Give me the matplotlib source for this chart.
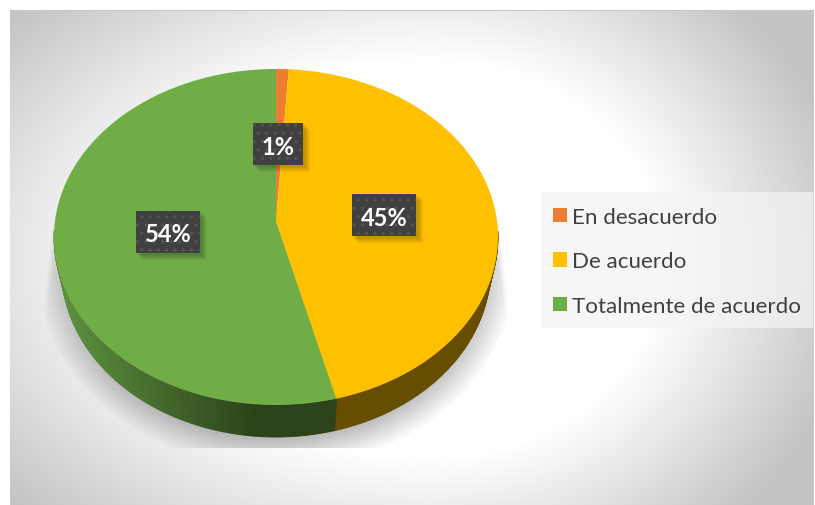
import numpy as np
import matplotlib
matplotlib.use('Agg')
import matplotlib.pyplot as plt
from matplotlib.patches import Rectangle
from matplotlib.transforms import Transform

plt.rcParams['font.family'] = ['Lato', 'DejaVu Sans']

# Datos
categorias = ['En desacuerdo', 'De acuerdo', 'Totalmente de acuerdo']
valores = [1, 45, 54]
colores = ['#ED7D31', '#FFC000', '#70AD47']
etiquetas_pos = [(278, 145), (384, 216), (168, 233)]

W, H = 815, 506
CX, CY = 276, 238
RX, RY = 222, 168
PROF = 32
C = 0.09  # el centro sube un poco por la perspectiva


def proyectar(x, y):
    d = 1 + C * y
    return x * np.sqrt(1 - C ** 2) / d, (y + C) / d


class Perspectiva(Transform):
    input_dims = output_dims = 2

    def transform_non_affine(self, values):
        v = np.asarray(values)
        x, y = proyectar(v[:, 0], v[:, 1])
        return np.column_stack([x, y])


fig = plt.figure(figsize=(W / 100, H / 100), dpi=100, facecolor='white')

# === Fondo ===
bg = fig.add_axes([0, 0, 1, 1], zorder=0)
bg.set_xlim(0, W)
bg.set_ylim(H, 0)
bg.axis('off')

xx, yy = np.meshgrid(np.arange(W) + 0.5, np.arange(H) + 0.5)
escala_x = np.where(xx > 430, 400, 520)
r = np.hypot((xx - 430) / escala_x, (yy - 260) / 340)
gris = 255 - np.clip(121 * (r - 0.587), 0, 58)

# sombra del pastel
d_sombra = np.hypot((xx - CX) / 240, (yy - 270) / 200)
a_sombra = np.clip((1.0 - d_sombra) / 0.16, 0, 1)
borde = 222 + (yy - 215) * 14 / 110
a_sombra = a_sombra * np.clip((borde - np.abs(xx - CX)) / 6, 0, 1)
a_sombra[(yy < 215) | (yy > 449)] = 0
gris = gris * (1 - 0.28 * a_sombra)

rgb = np.repeat(gris[:, :, None], 3, axis=2) / 255
rgb[(yy < 12) | (xx < 10) | (xx > 814)] = 1
rgb[(yy >= 11) & (yy < 12.5) & (xx >= 10) & (xx <= 814)] = 0.78
bg.imshow(rgb, extent=(0, W, H, 0), aspect='auto', interpolation='bilinear')

# === Pastel ===
ax = fig.add_axes([(CX - RX) / W, 1 - (CY + RY) / H, 2 * RX / W, 2 * RY / H], zorder=1)
wedges, _ = ax.pie(valores, colors=colores, startangle=90, counterclock=False,
                   radius=1, wedgeprops={'linewidth': 0})
ax.set_aspect('auto')
ax.set_xlim(-1, 1)
ax.set_ylim(-1, 1)
for w in wedges:
    w.set_transform(Perspectiva() + ax.transData)
    w.set_zorder(3)
    w.set_clip_on(False)

# pared lateral (la base queda un poco mas estrecha)
dy = 2 * PROF / (2 * RY)
ESC_BASE = 0.965
for w, cat in zip(wedges, categorias):
    if cat == 'En desacuerdo':
        continue
    angs = np.radians(np.arange(w.theta1, w.theta2 + 0.5, 0.5))
    px, py = proyectar(np.cos(angs), np.sin(angs))
    for i in range(len(angs) - 1):
        if py[i] > 0.03 and py[i + 1] > 0.03:
            continue
        if cat == 'Totalmente de acuerdo':
            t = np.clip((px[i] + 1) / 0.9, 0, 1)
            col = (1 - t) * np.array([0.37, 0.58, 0.25]) + t * np.array([0.17, 0.26, 0.10])
        else:
            col = (0.40, 0.30, 0.0)
        ax.fill([px[i], px[i + 1], px[i + 1] * ESC_BASE, px[i] * ESC_BASE],
                [py[i], py[i + 1], py[i + 1] - dy, py[i] - dy],
                color=col, lw=0.6, zorder=2, clip_on=False)

# === Etiquetas ===
top = fig.add_axes([0, 0, 1, 1], zorder=2)
top.set_xlim(0, W)
top.set_ylim(H, 0)
top.axis('off')
top.patch.set_alpha(0)

plt.rcParams['hatch.linewidth'] = 1.0
for val, (x, y) in zip(valores, etiquetas_pos):
    txt = f'{val}%'
    ancho = 50 if val < 10 else 64
    for k in range(1, 7):
        top.add_patch(Rectangle((x - ancho / 2 + k, y - 21 + k), ancho + 1, 43,
                                fc='black', ec='none', alpha=0.045, zorder=4))
    top.add_patch(Rectangle((x - ancho / 2, y - 21), ancho, 42, fc='#404040',
                            ec='#555555', lw=0, hatch='..', zorder=5))
    top.text(x, y + 2, txt, color='white', fontsize=17, fontweight='bold',
             ha='center', va='center', zorder=6)

# === Leyenda ===
top.add_patch(Rectangle((541, 193), 272, 136, fc='#f4f4f4', ec='none', alpha=0.75, zorder=6))
leg = top.legend(wedges, categorias, loc='upper left',
                 bbox_to_anchor=(541 / W, 1 - 196 / H), borderaxespad=0,
                 frameon=False, fontsize=16.1, labelcolor='#404040',
                 handlelength=0.62, handleheight=0.62, handletextpad=0.24,
                 labelspacing=1.1, borderpad=0.53)
leg.set_zorder(7)

fig.savefig('out.png', dpi=100)
